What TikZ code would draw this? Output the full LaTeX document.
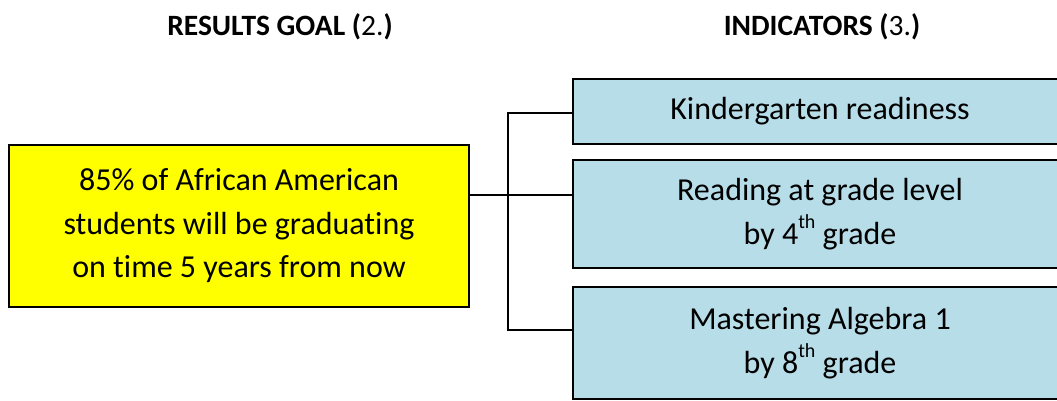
\documentclass[tikz,border=0pt]{standalone}
\usepackage{fontspec}
\setmainfont[Ligatures=NoCommon]{Carlito}
\definecolor{goalyellow}{HTML}{FFFF00}
\definecolor{indblue}{HTML}{B7DDE8}
\newcommand{\ordsup}[1]{\raisebox{1.0ex}{\fontsize{20}{20}\selectfont #1}}
\begin{document}
\begin{tikzpicture}[x=1pt,y=-1pt,
  boxbase/.style={draw=black, line width=2pt, inner sep=0pt, anchor=north west,
    align=center, font=\fontsize{32}{43.5}\selectfont},
  goalbox/.style={boxbase, fill=goalyellow},
  indbox/.style={boxbase, fill=indblue},
  heading/.style={font=\fontsize{29.5}{34}\selectfont, anchor=center},
  link/.style={draw=black, line width=2pt}]
\useasboundingbox (0,0) rectangle (1057,400);
\clip (0,0) rectangle (1057,400);

% column headings
\node[heading] (h1) at (280,27) {\bfseries RESULTS GOAL (\mdseries 2.\bfseries )};
\node[heading] (h2) at (822,27) {\bfseries INDICATORS (\mdseries 3.\bfseries )};

% result goal
\node[goalbox, minimum width=460pt, minimum height=162pt] (goal) at (8,144)
  {85\% of African American\\students will be graduating\\on time 5 years from now};

% indicators
\node[indbox, minimum width=494pt, minimum height=65pt] (ind1) at (572,78)
  {Kindergarten readiness};
\node[indbox, minimum width=494pt, minimum height=108pt] (ind2) at (572,159)
  {Reading at grade level\\by 4\ordsup{th} grade};
\node[indbox, minimum width=494pt, minimum height=112pt] (ind3) at (572,286)
  {Mastering Algebra 1\\by 8\ordsup{th} grade};

% bracket connectors
\coordinate (fork) at (508,195);
\coordinate (forktop) at (508,113);
\coordinate (forkbot) at (508,330);
\draw[link] (goal.east |- fork) -- (ind2.west |- fork);
\draw[link] (ind1.west |- forktop) -- (forktop) -- (forkbot) -- (ind3.west |- forkbot);
\end{tikzpicture}
\end{document}
